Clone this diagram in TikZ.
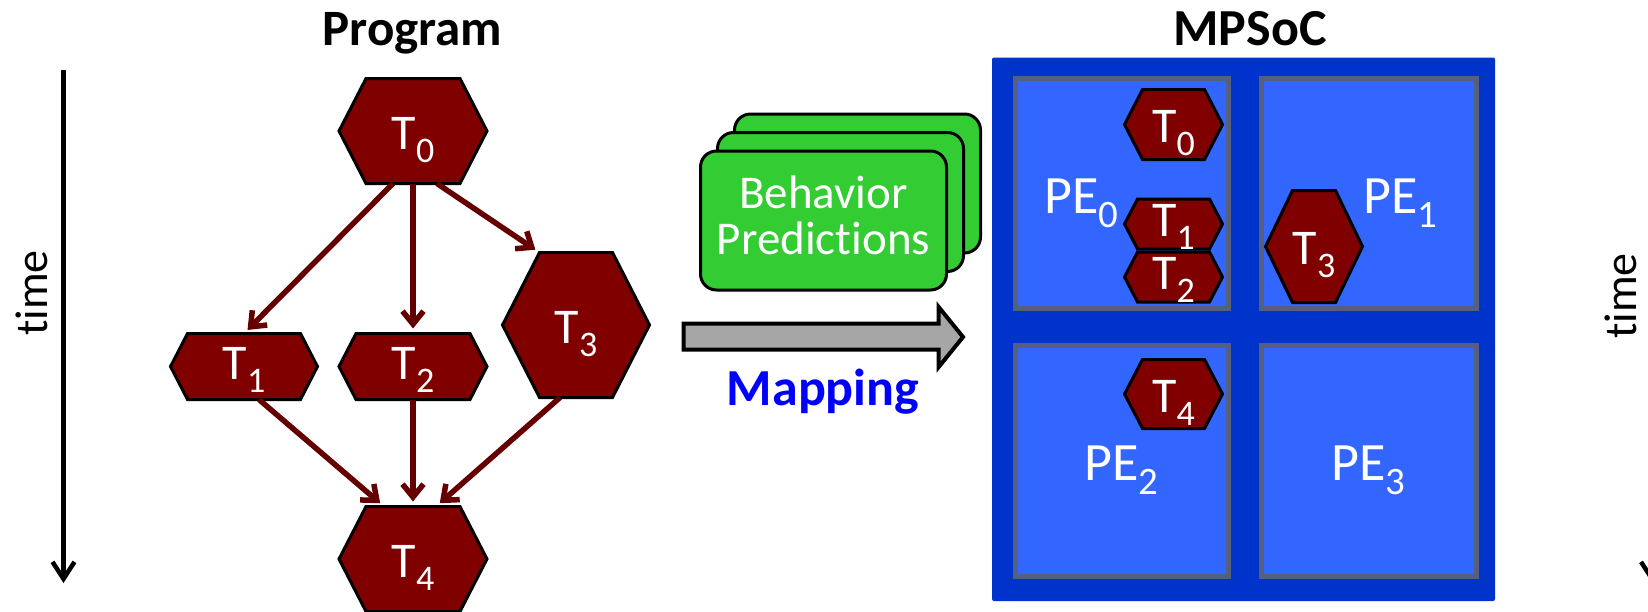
\documentclass[tikz,border=0pt]{standalone}
\usepackage{fontspec}
\setmainfont{Carlito}[Ligatures={NoCommon,NoContextual}]
\usepackage{graphicx}
\usetikzlibrary{arrows.meta}
\definecolor{taskred}{RGB}{128,0,0}
\definecolor{edgered}{RGB}{100,0,0}
\definecolor{cardgreen}{RGB}{51,204,51}
\definecolor{arrowgray}{RGB}{166,166,166}
\definecolor{socblue}{RGB}{0,51,204}
\definecolor{peblue}{RGB}{51,102,255}
\definecolor{peborder}{RGB}{85,96,128}
\definecolor{mapblue}{RGB}{0,0,255}
\newcommand\sbs[1]{\raisebox{-0.26em}{\scalebox{0.72}{#1}}}
\pgfdeclarelayer{pebg}
\pgfdeclarelayer{hexbg}
\pgfsetlayers{pebg,hexbg,main}
\newcommand\hexa[2]{%
  \begin{pgfonlayer}{hexbg}
  \filldraw[hexshape] (#1.west) -- ([xshift=#2]#1.north west) -- ([xshift=-#2]#1.north east)
    -- (#1.east) -- ([xshift=-#2]#1.south east) -- ([xshift=#2]#1.south west) -- cycle;
  \end{pgfonlayer}}
\begin{document}
\begin{tikzpicture}[x=1pt,y=-1pt,
  hexshape/.style={fill=taskred,draw=black,line width=3pt,line join=miter},
  task/.style={rectangle,inner sep=0pt,outer sep=0pt,text=white,
    font=\fontsize{50}{50}\selectfont,text depth=0pt},
  bighex/.style={task,text height=36pt},
  smallhex/.style={task,text height=25pt},
  dep/.style={draw=edgered,line width=5.5pt,
    -{Straight Barb[length=13pt,width=21pt]},shorten >=5pt},
  title/.style={font=\bfseries\fontsize{51}{51}\selectfont,anchor=base,inner sep=0pt},
  timelabel/.style={font=\fontsize{46}{46}\selectfont,rotate=90,inner sep=0pt},
  timearrow/.style={draw=black,line width=4.5pt,-{Straight Barb[length=17pt,width=22pt]}},
  card/.style={draw=black,line width=3pt,fill=cardgreen,rounded corners=16pt,
    minimum width=246pt,minimum height=139pt,inner sep=0pt,text=white,align=center,
    font=\fontsize{47}{46}\selectfont},
  pebox/.style={draw=peborder,line width=5pt,fill=peblue,inner sep=0pt},
  pelabel/.style={text=white,font=\fontsize{54}{54}\selectfont,anchor=base west,inner sep=0pt},
  maparrow/.style={draw=black,line width=4pt,fill=arrowgray,line join=miter}
]
\useasboundingbox (0,0) rectangle (1648,611);
\begin{pgfonlayer}{pebg}
\fill[white] (0,0) rectangle (1648,611);
\end{pgfonlayer}

% ---------- time axes ----------
\node[timelabel] (timeL) at (32,293) {time};
\coordinate (tl0) at (63.5,70);
\coordinate (tl1) at (63.5,583);
\draw[timearrow] (tl0) -- (tl1);
\node[timelabel] (timeR) at (1621,296) {time};
\coordinate (tr0) at (1652,70);
\coordinate (tr1) at (1652,583);
\draw[timearrow] (tr0) -- (tr1);

% ---------- Program ----------
\node[title] (prog) at (412.5,45) {Program};
\node[bighex,minimum width=148pt,minimum height=105pt] (t0) at (413,131) {T\sbs{0}};
\node[smallhex,minimum width=147pt,minimum height=66pt] (t1) at (244,366.5) {T\sbs{1}};
\node[smallhex,minimum width=148pt,minimum height=66pt] (t2) at (413,366.5) {T\sbs{2}};
\node[bighex,minimum width=147pt,minimum height=145pt] (t3) at (576,325) {T\sbs{3}};
\node[bighex,minimum width=148pt,minimum height=105pt] (t4) at (413,559) {T\sbs{4}};
\hexa{t0}{27pt}
\hexa{t1}{17pt}
\hexa{t2}{17pt}
\hexa{t3}{37pt}
\hexa{t4}{27pt}
\draw[dep] ([xshift=-20pt]t0.south) -- (t1.north);
\draw[dep] (t0.south) -- (t2.north);
\draw[dep] ([xshift=24pt]t0.south) -- ([xshift=37pt]t3.north west);
\draw[dep] ([xshift=15pt]t1.south) -- ([xshift=-29pt]t4.north);
\draw[dep] (t2.south) -- (t4.north);
\draw[dep] ([xshift=-16pt]t3.south) -- ([xshift=23pt]t4.north);

% ---------- Behavior predictions + mapping ----------
\node[card] (bp3) at (857.5,183.5) {};
\node[card] (bp2) at (840.5,202) {};
\node[card] (bp) at (823.5,220.5) {Behavior\\Predictions\rule[-10pt]{0pt}{10pt}};
\draw[maparrow] (683.7,323.7) -- (938.7,323.7) -- (938.7,307) -- (963,337)
  -- (938.7,367) -- (938.7,349.7) -- (683.7,349.7) -- cycle;
\node[title,text=mapblue,font=\bfseries\fontsize{52}{52}\selectfont] (map) at (823,405) {Mapping};

% ---------- MPSoC ----------
\node[title,font=\bfseries\fontsize{52}{52}\selectfont] (mpsoc) at (1250,45) {MPSoC};
\begin{pgfonlayer}{pebg}
\node[fill=socblue,rounded corners=2pt,inner sep=0pt,minimum width=503pt,minimum height=543.5pt] (soc) at (1243.5,329.25) {};
\node[pebox,minimum width=213.5pt,minimum height=230.3pt] (pe0) at (1121.75,193.35) {};
\node[pebox,minimum width=214.5pt,minimum height=230.3pt] (pe1) at (1368.75,193.35) {};
\node[pebox,minimum width=213.5pt,minimum height=231pt] (pe2) at (1121.75,461) {};
\node[pebox,minimum width=214.5pt,minimum height=231pt] (pe3) at (1368.75,461) {};
\end{pgfonlayer}
\node[pelabel] (l0) at (1044,213) {PE\sbs{0}};
\node[pelabel] (l1) at (1363,213) {PE\sbs{1}};
\node[pelabel] (l2) at (1084,480.6) {PE\sbs{2}};
\node[pelabel] (l3) at (1331,480.6) {PE\sbs{3}};
\node[bighex,minimum width=98pt,minimum height=70pt] (m0) at (1173.5,124.5) {T\sbs{0}};
\node[smallhex,minimum width=98pt,minimum height=50pt] (m1) at (1173.5,224) {T\sbs{1}};
\node[smallhex,minimum width=98pt,minimum height=50pt] (m2) at (1173.5,277) {T\sbs{2}};
\node[bighex,minimum width=97pt,minimum height=112pt] (m3) at (1314,246.5) {T\sbs{3}};
\node[bighex,minimum width=98pt,minimum height=69pt] (m4) at (1173.5,394) {T\sbs{4}};
\hexa{m0}{18pt}
\hexa{m1}{13pt}
\hexa{m2}{13pt}
\hexa{m3}{27pt}
\hexa{m4}{18pt}
\end{tikzpicture}
\end{document}
